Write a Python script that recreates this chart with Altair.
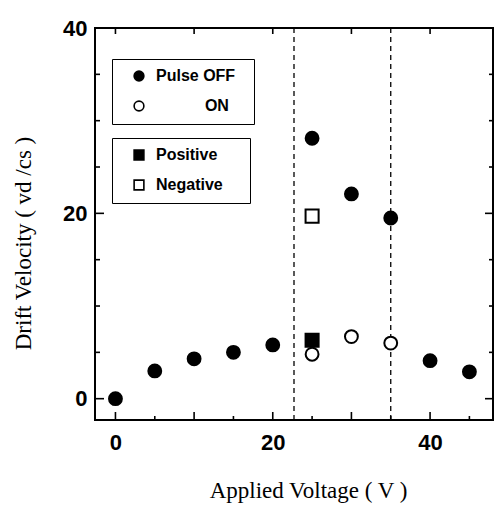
import altair as alt
import pandas as pd

# ---- data ----
off_x = [0, 5, 10, 15, 20, 25, 30, 35, 40, 45]
off_y = [0.0, 3.0, 4.3, 5.0, 5.8, 28.1, 22.1, 19.5, 4.1, 2.9]
on_x = [25, 30, 35]
on_y = [4.8, 6.7, 6.0]
pos_x = [25]
pos_y = [6.3]
neg_x = [25]
neg_y = [19.7]
guide_x = [22.7, 35]

pulse_labels = ["Pulse OFF", "ON"]
polarity_labels = ["Positive", "Negative"]

x_tick_labels = [0, 20, 40]
y_tick_labels = [0, 20, 40]
x_major = [0, 10, 20, 30, 40]
x_minor = [5, 15, 25, 35, 45]
y_major = [0, 20, 40]
y_minor = [5, 10, 15, 25, 30, 35]

W, H = 398, 392
XD = [-2.6, 48.0]
YD = [-2.3, 40.0]

circles = pd.DataFrame({
    "x": off_x + on_x,
    "y": off_y + on_y,
    "pulse": [pulse_labels[0]] * len(off_x) + [pulse_labels[1]] * len(on_x),
})
squares = pd.DataFrame({
    "x": pos_x + neg_x,
    "y": pos_y + neg_y,
    "polarity": [polarity_labels[0]] * len(pos_x) + [polarity_labels[1]] * len(neg_x),
})
guides = pd.DataFrame({"gx": guide_x})

xs = alt.Scale(domain=XD, nice=False, zero=False)
ys = alt.Scale(domain=YD, nice=False, zero=False)

x_axis = alt.Axis(values=x_tick_labels, ticks=False, domain=False, grid=False,
                  labelFont="Liberation Sans", labelFontWeight="bold", labelFontSize=22,
                  labelColor="black", labelPadding=12,
                  title="Applied Voltage ( V )", titleFont="Liberation Serif",
                  titleFontSize=23, titleFontWeight="normal", titleColor="black",
                  titleX=213, titleY=77, titleBaseline="alphabetic")
y_axis = alt.Axis(values=y_tick_labels, ticks=False, domain=False, grid=False,
                  labelFont="Liberation Sans", labelFontWeight="bold", labelFontSize=22,
                  labelColor="black", labelPadding=8,
                  title="Drift Velocity ( vd /cs )", titleFont="Liberation Serif",
                  titleFontSize=23, titleFontWeight="normal", titleColor="black",
                  titleX=-72, titleY=H / 2 + 19, titleAngle=270,
                  titleAlign="center", titleBaseline="middle")

X = lambda f: alt.X(f, scale=xs, axis=x_axis)
Y = lambda f: alt.Y(f, scale=ys, axis=y_axis)

rules = alt.Chart(guides).mark_rule(color="black", strokeWidth=1.3, strokeDash=[5, 4]).encode(
    x=X("gx:Q")
)


def xtick(vals, y0, y1):
    return alt.Chart(pd.DataFrame({"v": vals})).mark_rule(color="black", strokeWidth=1.6).encode(
        x=X("v:Q"), y=alt.value(y0), y2=alt.value(y1))


def ytick(vals, x0, x1):
    return alt.Chart(pd.DataFrame({"v": vals})).mark_rule(color="black", strokeWidth=1.6).encode(
        y=Y("v:Q"), x=alt.value(x0), x2=alt.value(x1))


ticks = [
    xtick(x_major, H, H - 8), xtick(x_minor, H, H - 4),
    xtick(x_major, 0, 6),
    ytick(y_major, 0, 9), ytick(y_minor, 0, 5),
    ytick(y_major, W, W - 8), ytick(y_minor, W, W - 4),
]

ZW = "\\u200b"
NB = "\\u00a0"

legend_common = dict(
    orient="none", legendX=17, strokeColor="black", fillColor="white",
    padding=9, rowPadding=12, symbolOffset=10, labelOffset=9,
    labelFont="Liberation Sans", labelFontWeight="bold", labelFontSize=16, labelColor="black",
    symbolStrokeColor="black", symbolStrokeWidth=1.6, symbolSize=95, title=None,
)

sq = alt.Chart(squares).mark_point(shape="square", filled=True, size=170, stroke="black",
                                   strokeWidth=2, opacity=1).encode(
    x=X("x:Q"),
    y=Y("y:Q"),
    fill=alt.Fill("polarity:N", scale=alt.Scale(domain=polarity_labels, range=["black", "white"]),
                  legend=alt.Legend(legendY=110,
                                    labelExpr="datum.label + '" + NB * 4 + ZW + "'",
                                    **legend_common)),
)

ci = alt.Chart(circles).mark_point(shape="circle", filled=True, size=165, stroke="black",
                                   strokeWidth=2, opacity=1).encode(
    x=X("x:Q"),
    y=Y("y:Q"),
    fill=alt.Fill("pulse:N", scale=alt.Scale(domain=pulse_labels, range=["black", "white"]),
                  legend=alt.Legend(legendY=31,
                                    labelExpr="datum.label == 'ON' ? '" + ZW + NB * 11 + "ON' : datum.label + '" + NB * 2 + ZW + "'",
                                    **legend_common)),
)

chart = alt.layer(rules, *ticks, sq, ci).resolve_scale(fill="independent").properties(
    width=W, height=H,
    autosize=alt.AutoSizeParams(type="none"),
    padding={"left": 87, "top": 20, "right": 1, "bottom": 83},
    background="white",
).configure_view(stroke="black", strokeWidth=2)

chart.save("out.html", embed_options={"renderer": "svg", "actions": False})
